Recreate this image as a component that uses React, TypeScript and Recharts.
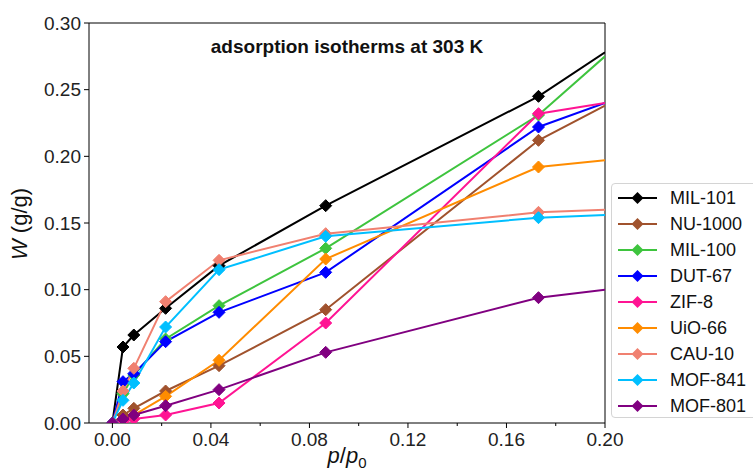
import React from 'react';
import { LineChart, Line, XAxis, YAxis, ReferenceLine } from 'recharts';

// relative pressure p/p0 (last point = right edge of the axes, drawn without a marker)
const P = [0, 0.0043, 0.0087, 0.0216, 0.0433, 0.0866, 0.173, 0.2];

const MIL101 = [0, 0.057, 0.066, 0.086, 0.118, 0.163, 0.245, 0.278];
const NU1000 = [0, 0.006, 0.011, 0.024, 0.043, 0.085, 0.212, 0.238];
const MIL100 = [0, 0.022, 0.036, 0.063, 0.088, 0.131, 0.231, 0.275];
const DUT67 = [0, 0.031, 0.037, 0.061, 0.083, 0.113, 0.222, 0.240];
const ZIF8 = [0, 0.001, 0.003, 0.006, 0.015, 0.075, 0.232, 0.240];
const UIO66 = [0, 0.003, 0.006, 0.020, 0.047, 0.123, 0.192, 0.197];
const CAU10 = [0, 0.024, 0.041, 0.091, 0.122, 0.142, 0.158, 0.160];
const MOF841 = [0, 0.017, 0.030, 0.072, 0.115, 0.140, 0.154, 0.156];
const MOF801 = [0, 0.003, 0.006, 0.013, 0.025, 0.053, 0.094, 0.100];

const X_TICKS = [0, 0.02, 0.04, 0.06, 0.08, 0.1, 0.12, 0.14, 0.16, 0.18, 0.2];
const Y_TICKS = [0, 0.05, 0.1, 0.15, 0.2, 0.25, 0.3];

const SERIES = [
  { key: 'mil101', name: 'MIL-101', color: '#000000', values: MIL101 },
  { key: 'nu1000', name: 'NU-1000', color: '#a0522d', values: NU1000 },
  { key: 'mil100', name: 'MIL-100', color: '#3ec43e', values: MIL100 },
  { key: 'dut67', name: 'DUT-67', color: '#0000ff', values: DUT67 },
  { key: 'zif8', name: 'ZIF-8', color: '#ff1493', values: ZIF8 },
  { key: 'uio66', name: 'UiO-66', color: '#ff8c00', values: UIO66 },
  { key: 'cau10', name: 'CAU-10', color: '#f08070', values: CAU10 },
  { key: 'mof841', name: 'MOF-841', color: '#00bfff', values: MOF841 },
  { key: 'mof801', name: 'MOF-801', color: '#800080', values: MOF801 },
];

const data = P.map((p, i) => {
  const row: Record<string, number> = { p };
  SERIES.forEach((s) => { row[s.key] = s.values[i]; });
  return row;
});

const FONT = '"Liberation Sans", Arial, sans-serif';
const W = 753;
const H = 475;

const Diamond = (color: string) => (props: any) => {
  const { cx, cy, index } = props;
  if (index === P.length - 1 || cx == null) return <g key={index} />;
  const s = 6;
  return (
    <polygon key={index}
      points={`${cx},${cy - s} ${cx + s},${cy} ${cx},${cy + s} ${cx - s},${cy}`}
      fill={color} stroke={color} strokeWidth={1} />
  );
};

const XTick = (props: any) => {
  const { x, y, payload } = props;
  const major = Math.round(payload.value / 0.02) % 2 === 0;
  return (
    <g>
      <line x1={x} x2={x} y1={y} y2={y + (major ? 5 : 3)} stroke="#000" strokeWidth={1} />
      {major && (
        <text x={x} y={y + 23} textAnchor="middle" fontSize={19} fontFamily={FONT} fill="#222">
          {payload.value.toFixed(2)}
        </text>
      )}
    </g>
  );
};

export default function App() {
  return (
    <div style={{ position: 'absolute', left: 0, top: 0, width: W, height: H, overflow: 'hidden', background: '#fff' }}>
      <LineChart width={W} height={H} data={data}
        margin={{ top: 23, right: 148, left: 0, bottom: 0 }}>
        <XAxis dataKey="p" type="number" domain={[-0.0095, 0.2]} ticks={X_TICKS}
          allowDataOverflow interval={0} height={52} tickSize={0} tickMargin={0}
          tickLine={false} tick={<XTick />} axisLine={{ stroke: '#000' }} />
        <YAxis type="number" domain={[0, 0.3]} ticks={Y_TICKS} allowDataOverflow
          width={89} tickSize={5} tickMargin={3} interval={0}
          tickFormatter={(v: number) => v.toFixed(2)}
          tick={{ fontSize: 19, fontFamily: FONT, fill: '#222' }}
          tickLine={{ stroke: '#000' }} axisLine={{ stroke: '#000' }} />
        <ReferenceLine y={0.3} stroke="#000" strokeWidth={1} />
        <ReferenceLine x={0.2} stroke="#000" strokeWidth={1} />
        {SERIES.map((s) => (
          <Line key={s.key} dataKey={s.key} name={s.name} type="linear"
            stroke={s.color} strokeWidth={2} dot={Diamond(s.color)} activeDot={false}
            isAnimationActive={false} />
        ))}
      </LineChart>

      <svg width={W} height={H} style={{ position: 'absolute', left: 0, top: 0, pointerEvents: 'none' }}>
        <text x={347} y={53} textAnchor="middle" fontSize={19} fontWeight="bold" fontFamily={FONT} fill="#111">
          adsorption isotherms at 303 K
        </text>
        <text transform="translate(27, 224) rotate(-90)" textAnchor="middle" fontSize={22} fontFamily={FONT} fill="#111">
          <tspan fontStyle="italic">W</tspan> (g/g)
        </text>
        <text x={347} y={463} textAnchor="middle" fontSize={22} fontFamily={FONT} fill="#111">
          <tspan fontStyle="italic">p</tspan>/<tspan fontStyle="italic">p</tspan>
          <tspan fontSize={15} dy={5}>0</tspan>
        </text>
      </svg>

      <div style={{
        position: 'absolute', left: 611, top: 183, width: 170, height: 235,
        background: 'rgba(255,255,255,0.9)', border: '1px solid #d4d4d4', borderRadius: 4,
        boxSizing: 'border-box', fontFamily: FONT,
      }}>
        {SERIES.map((s, i) => (
          <div key={s.key} style={{ position: 'absolute', left: 0, top: 1 + i * 26, height: 26, display: 'flex', alignItems: 'center' }}>
            <svg width={58} height={26}>
              <line x1={6} x2={45} y1={13} y2={13} stroke={s.color} strokeWidth={2} />
              <polygon points="25.5,7 31.5,13 25.5,19 19.5,13" fill={s.color} />
            </svg>
            <span style={{ fontSize: 18, color: '#111' }}>{s.name}</span>
          </div>
        ))}
      </div>
    </div>
  );
}
